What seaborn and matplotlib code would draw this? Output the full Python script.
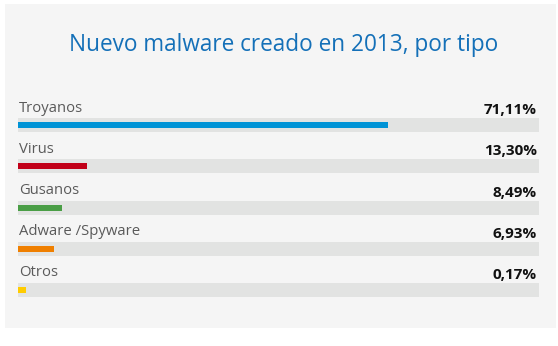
import matplotlib
matplotlib.use("Agg")
import matplotlib.pyplot as plt
import seaborn as sns
import pandas as pd
import numpy as np
from matplotlib.patches import Rectangle

categories = ["Troyanos", "Virus", "Gusanos", "Adware /Spyware", "Otros"]
values = [71.11, 13.30, 8.49, 6.93, 0.17]
value_labels = ["71,11%", "13,30%", "8,49%", "6,93%", "0,17%"]
colors = ["#0093d6", "#c10018", "#4a9e46", "#ef7f00", "#ffcc00"]
title = "Nuevo malware creado en 2013, por tipo"

W, H = 558, 346
MIN_VISIBLE = 1.5  # minimum displayed bar width (percent of track)

sns.set_theme(style="white")
plt.rcParams["font.family"] = ["Open Sans", "DejaVu Sans"]

fig = plt.figure(figsize=(W / 100, H / 100), dpi=100, facecolor="white")
fig.patches.append(Rectangle((5 / W, 1 - 328 / H), 551 / W, 324 / H,
                             transform=fig.transFigure, facecolor="#f5f5f5",
                             edgecolor="none", zorder=-10))

row = 41.25
top_c, bot_c = 125, 290
ax = fig.add_axes([18 / W, 1 - (bot_c + row / 2) / H, 521 / W,
                   (bot_c - top_c + row) / H])
ax.set_facecolor("none")
ax.set_zorder(5)

df = pd.DataFrame({"cat": categories, "val": values,
                   "shown": np.maximum(values, MIN_VISIBLE),
                   "track": [100] * len(categories)})

sns.barplot(data=df, x="track", y="cat", color="#e2e3e2", width=14 / row,
            ax=ax, saturation=1, orient="h", linewidth=0)
sns.barplot(data=df, x="shown", y="cat", hue="cat", palette=colors,
            width=6 / row, ax=ax, saturation=1, legend=False, orient="h",
            dodge=False, linewidth=0)

ax.set_xlim(0, 100)
ax.set_ylim(len(categories) - 0.5, -0.5)
for s in ax.spines.values():
    s.set_visible(False)
ax.set_xticks([])
ax.set_yticks([])
ax.set_xlabel("")
ax.set_ylabel("")

for i, (c, v) in enumerate(zip(categories, value_labels)):
    ax.text(0.2, i - 13.5 / row, c, ha="left", va="baseline",
            fontsize=10.7, color="#5a5a5a")
    ax.text(99.6, i - 11 / row, v, ha="right", va="baseline",
            fontsize=11, fontweight="bold", color="#111111")

fig.text(284 / W, 1 - 51.3 / H, title, ha="center", va="baseline",
         fontsize=16.3, color="#1470b8")

fig.savefig("out.png", dpi=100, facecolor="white")
